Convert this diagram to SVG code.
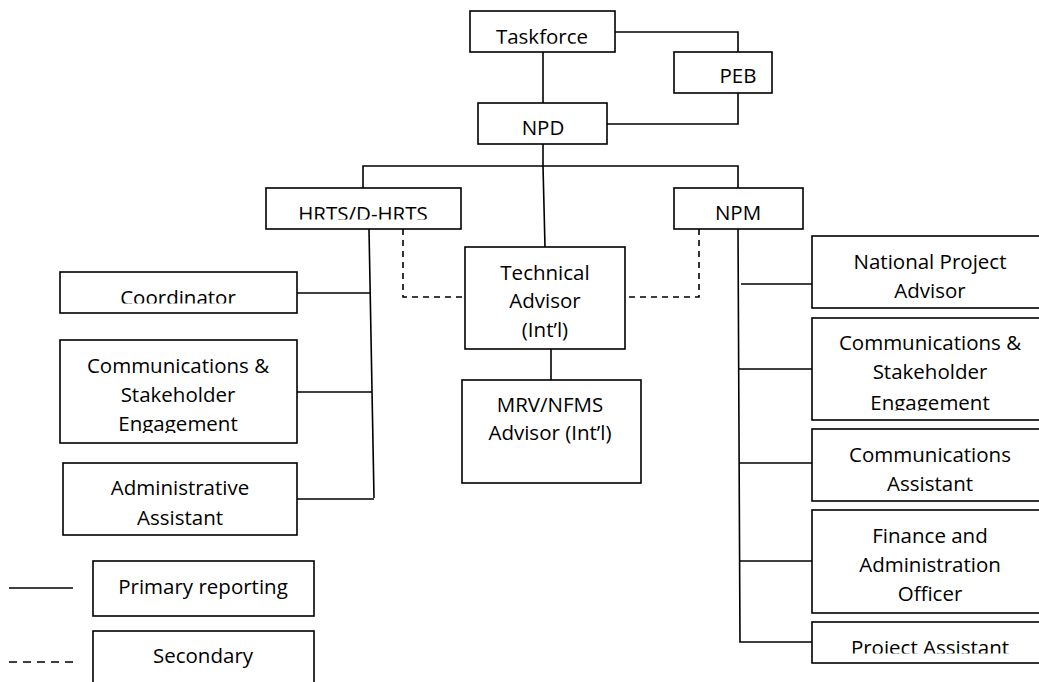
<svg xmlns="http://www.w3.org/2000/svg" width="1039" height="682" viewBox="0 0 1039 682">
<style>
.box{fill:#fff;stroke:#000;stroke-width:1.6}
.ln{fill:none;stroke:#000;stroke-width:1.6}
.ds{fill:none;stroke:#000;stroke-width:1.6;stroke-dasharray:6 5}
text{font-family:"Open Sans","Liberation Sans",sans-serif;font-size:20.5px;fill:#000;text-anchor:middle}
</style>
<defs>
<clipPath id="cTask"><rect x="470" y="11" width="145" height="32.8"/></clipPath>
<clipPath id="cHrts"><rect x="266" y="188" width="195" height="31.6"/></clipPath>
<clipPath id="cCoord"><rect x="60" y="272" width="237" height="31.6"/></clipPath>
<clipPath id="cCseL"><rect x="60" y="340" width="237" height="93"/></clipPath>
<clipPath id="cCseR"><rect x="812" y="318" width="227" height="92.5"/></clipPath>
<clipPath id="cProj"><rect x="812" y="622" width="227" height="31.6"/></clipPath>
</defs>
<rect width="1039" height="682" fill="#fff"/>
<g id="connectors">
<path class="ln" d="M543 52 V103"/>
<path class="ln" d="M615 32 H738 V52"/>
<path class="ln" d="M738 93 V124 H607"/>
<path class="ln" d="M543 144 V166"/>
<path class="ln" d="M363 188 V166 H738 V188"/>
<path class="ln" d="M543 166 L545 247"/>
<path class="ln" d="M551 349 V380"/>
<path class="ln" d="M369 229 L374 498"/>
<path class="ln" d="M297 293 H370"/>
<path class="ln" d="M297 392 H372"/>
<path class="ln" d="M297 499 H374"/>
<path class="ds" d="M403 229 V297 H465"/>
<path class="ds" d="M699 229 V297 H625"/>
<path class="ln" d="M738 229 L740 642 H812"/>
<path class="ln" d="M741 284 H816"/>
<path class="ln" d="M739 369 H812"/>
<path class="ln" d="M739 463 H812"/>
<path class="ln" d="M740 561 H812"/>
</g>
<g id="taskforce"><rect class="box" x="470" y="11" width="145" height="41"/><text x="542" y="43.5" clip-path="url(#cTask)">Taskforce</text></g>
<g id="peb"><rect class="box" x="674" y="52" width="98" height="41"/><text x="738" y="83">PEB</text></g>
<g id="npd"><rect class="box" x="478" y="103" width="129" height="41"/><text x="543" y="135">NPD</text></g>
<g id="hrts"><rect class="box" x="266" y="188" width="195" height="41"/><text x="363" y="220.5" clip-path="url(#cHrts)">HRTS/D-HRTS</text></g>
<g id="npm"><rect class="box" x="674" y="188" width="129" height="41"/><text x="738" y="220">NPM</text></g>
<g id="ta"><rect class="box" x="465" y="247" width="160" height="102"/><text x="545" y="280">Technical</text><text x="545" y="308">Advisor</text><text x="545" y="337">(Int’l)</text></g>
<g id="mrv"><rect class="box" x="462" y="380" width="179" height="103"/><text x="550" y="412">MRV/NFMS</text><text x="550" y="440">Advisor (Int’l)</text></g>
<g id="coordinator"><rect class="box" x="60" y="272" width="237" height="41"/><text x="178" y="304.5" clip-path="url(#cCoord)">Coordinator</text></g>
<g id="cse-left"><rect class="box" x="60" y="340" width="237" height="103"/><g clip-path="url(#cCseL)"><text x="178" y="373">Communications &amp;</text><text x="178" y="402">Stakeholder</text><text x="178" y="430.5">Engagement</text></g></g>
<g id="admin"><rect class="box" x="63" y="463" width="234" height="72"/><text x="180" y="495">Administrative</text><text x="180" y="525">Assistant</text></g>
<g id="npa"><rect class="box" x="812" y="236" width="240" height="72"/><text x="930" y="269">National Project</text><text x="930" y="298">Advisor</text></g>
<g id="cse-right"><rect class="box" x="812" y="318" width="240" height="102"/><g clip-path="url(#cCseR)"><text x="930" y="350">Communications &amp;</text><text x="930" y="379">Stakeholder</text><text x="930" y="409.5">Engagement</text></g></g>
<g id="comm-asst"><rect class="box" x="812" y="429" width="240" height="72"/><text x="930" y="462">Communications</text><text x="930" y="491">Assistant</text></g>
<g id="finance"><rect class="box" x="812" y="510" width="240" height="103"/><text x="930" y="543">Finance and</text><text x="930" y="572">Administration</text><text x="930" y="601">Officer</text></g>
<g id="proj-asst"><rect class="box" x="812" y="622" width="240" height="41"/><text x="930" y="655" clip-path="url(#cProj)">Project Assistant</text></g>
<g id="legend-primary"><path class="ln" d="M9 588 H73"/><rect class="box" x="93" y="561" width="221" height="55"/><text x="203" y="594">Primary reporting</text></g>
<g id="legend-secondary"><path class="ln" d="M9 662 H73" stroke-dasharray="8 6"/><rect class="box" x="93" y="631" width="221" height="70"/><text x="203" y="663">Secondary</text></g>
</svg>
